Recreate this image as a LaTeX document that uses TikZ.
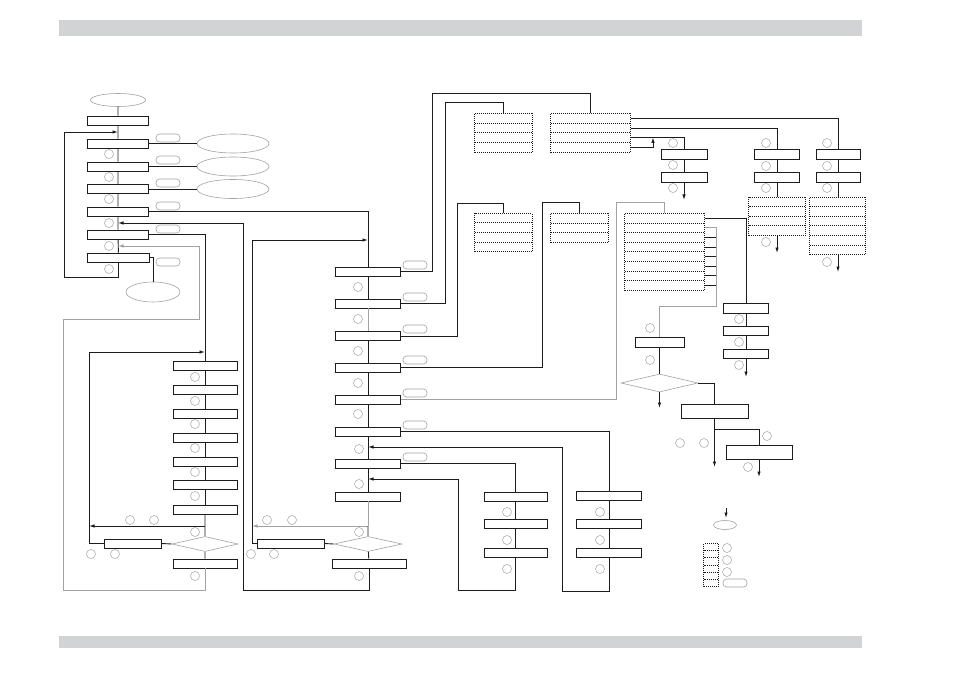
\documentclass[tikz,border=0pt]{standalone}
\usepackage{xcolor}
\usetikzlibrary{arrows.meta,positioning,shapes.geometric,shapes.multipart,calc}
\definecolor{ink}{HTML}{1C1C1C}
\definecolor{soft}{HTML}{A2A2A2}
\definecolor{band}{HTML}{D2D3D5}
\tikzset{
  bar/.style={draw=ink, line width=0.9pt, fill=white, inner sep=0pt, minimum height=9pt, minimum width=#1},
  bar/.default=61pt,
  oval/.style 2 args={ellipse, draw=soft, line width=0.6pt, fill=white, inner sep=0pt, minimum width=#1, minimum height=#2},
  choice/.style 2 args={diamond, draw=soft, line width=0.6pt, fill=white, inner sep=0pt, minimum width=#1, minimum height=#2},
  pill/.style={draw=soft, line width=0.6pt, rounded corners=3.5pt, inner sep=0pt, minimum width=24pt, minimum height=8pt},
  ring/.style={circle, draw=soft, line width=0.5pt, inner sep=0pt, minimum size=9pt},
  dotgroup/.style n args={3}{rectangle split, rectangle split parts=#1, draw=ink, line width=0.8pt, dash pattern=on 1pt off 1pt, inner xsep=0pt, inner ysep=0pt, rectangle split empty part width=#2, rectangle split empty part height=#3, rectangle split empty part depth=0pt, anchor=north},
  link/.style={draw=ink, line width=0.9pt},
  graylink/.style={draw=soft, line width=0.9pt},
  arrow/.style={link, -{Latex[length=5.5pt,width=3.5pt]}},
  grayarrow/.style={graylink, -{Latex[length=5.5pt,width=3.5pt]}}
}

\begin{document}
\begin{tikzpicture}[x=1pt, y=-1pt]
\useasboundingbox (0,0) rectangle (954,674);
\fill[band] (59,20) rectangle (862,36);
\fill[band] (59,636) rectangle (862,648);

% left upper column
\node[oval={55pt}{13pt}] (e0) at (118,100) {};
\node[bar] (b1) at (118,120.5) {};
\node[bar] (b2) at (118,143.5) {};
\node[bar] (b3) at (118,166.5) {};
\node[bar] (b4) at (118,189) {};
\node[bar] (b5) at (118,211.5) {};
\node[bar] (b6) at (118,234.5) {};
\node[bar=62pt] (b7) at (118.5,257.5) {};
\node[oval={72pt}{19pt}] (e1) at (233,143.5) {};
\node[oval={72pt}{19pt}] (e2) at (233,166.5) {};
\node[oval={72pt}{19pt}] (e3) at (233,189) {};
\node[oval={54pt}{20pt}] (e4) at (153,292) {};

% middle column
\node[bar=65pt] (m1) at (368,271.5) {};
\node[bar=65pt] (m2) at (368,303.5) {};
\node[bar=65pt] (m3) at (368,336) {};
\node[bar=65pt] (m4) at (368,367.5) {};
\node[bar=65pt] (m5) at (368,399.5) {};
\node[bar=65pt] (m6) at (368,431.5) {};
\node[bar=65pt] (m7) at (368,463.5) {};
\node[bar=65pt] (m8) at (368,496.5) {};
\node[choice={68pt}{15pt}] (md) at (368,544) {};
\node[bar=67pt] (mdl) at (290.5,543.5) {};
\node[bar=74pt] (mdb) at (369,563.5) {};

% left lower column
\node[bar=64pt] (l1) at (205,366) {};
\node[bar=64pt] (l2) at (205,390) {};
\node[bar=64pt] (l3) at (205,413.5) {};
\node[bar=64pt] (l4) at (205,437.5) {};
\node[bar=64pt] (l5) at (205,461.5) {};
\node[bar=64pt] (l6) at (205,485) {};
\node[bar=64pt] (l7) at (205,509.5) {};
\node[choice={66pt}{15pt}] (ld) at (205,544) {};
\node[bar=57pt] (ldl) at (132.5,543.5) {};
\node[bar=64pt] (ldb) at (205,563.5) {};

% lower right columns
\node[bar=63pt] (r1a) at (515.5,496.5) {};
\node[bar=63pt] (r1b) at (515.5,524) {};
\node[bar=63pt] (r1c) at (515.5,552.5) {};
\node[bar=65pt] (r2a) at (609,495.5) {};
\node[bar=65pt] (r2b) at (609,524) {};
\node[bar=65pt] (r2c) at (609,552.5) {};

% dotted tables
\node[dotgroup={4}{53pt}{8.95pt}] (gA) at (503.5,113) {};
\node[dotgroup={4}{75pt}{8.95pt}] (gB) at (590.5,113) {};
\node[dotgroup={4}{53pt}{8.7pt}] (gC) at (503.5,213) {};
\node[dotgroup={3}{53pt}{8.87pt}] (gD) at (579.5,213) {};
\node[dotgroup={8}{75pt}{8.8pt}] (gE) at (664.5,213) {};

% upper right columns
\node[bar=46pt, minimum height=10pt] (ca1) at (684,154) {};
\node[bar=46pt, minimum height=10pt] (ca2) at (684,177.5) {};
\node[bar=45pt, minimum height=10pt] (cb1) at (777,154) {};
\node[bar=45pt, minimum height=10pt] (cb2) at (777,177) {};
\node[dotgroup={4}{52pt}{8.7pt}] (gF) at (777,197) {};
\node[bar=44pt, minimum height=10pt] (cc1) at (838.5,154) {};
\node[bar=44pt, minimum height=10pt] (cc2) at (838.5,177) {};
\node[dotgroup={6}{51pt}{8.7pt}] (gG) at (837.5,197) {};
\node[bar=45pt, minimum height=10pt] (ce1) at (746,308) {};
\node[bar=45pt] (ce2) at (746,330.5) {};
\node[bar=45pt] (ce3) at (746,353.5) {};
\node[bar=49pt, minimum height=10pt] (ge1) at (659.5,342) {};
\node[choice={77pt}{18pt}] (dd) at (659.5,383) {};
\node[bar=67pt, minimum height=14pt] (dbx) at (714.5,411) {};
\node[bar=66pt, minimum height=14pt] (dby) at (759,452) {};

% legend
\node[oval={23pt}{9pt}] (lg0) at (725,525) {};
\node[dotgroup={6}{10pt}{6.4pt}] (gL) at (711,543) {};

% markers
\foreach \x/\y [count=\i] in {109/154,109/177,109/199,109/223,109/246,109/269,
  358/287,358/319,358/351,358/383,358/414,359/449,359/484,359/532,267/520,292/520,251/554,274/554,359/576,
  195/377,195/401,195/424,195/448,195/472,195/496,195/532,130/520,154/520,91/554,115/554,195/576,
  507/512,507/540,507/569,600/512,600/540,600/569,673/143,673/165,673/188,766/143,766/166,766/188,766/242,
  827/143,827/166,827/188,827/262,739/319,739/342,739/365,650/328,650/360,767/436,748/467,680/443,704/443,
  727/548,727/560,727/572}
  \node[ring] (o\i) at (\x,\y) {};
\foreach \x/\y [count=\i] in {168/138,168/160,168/183,168/206,168/229,168/262,
  415/265,415/297,415/329,415/360,415/393,415/425,415/457,735/583}
  \node[pill] (p\i) at (\x,\y) {};

% free ends
\coordinate (k1) at (118,132);
\coordinate (k2) at (118,223);
\coordinate (k3) at (118,246);
\coordinate (k4) at (368,240);
\coordinate (k5) at (368,526);
\coordinate (k6) at (252,526);
\coordinate (k7) at (205,526);
\coordinate (k8) at (89,526);
\coordinate (k9) at (205,352);
\coordinate (k10) at (368,479);
\coordinate (k11) at (368,447);
\coordinate (k12) at (653,137.4);
\coordinate (ka) at (684,200);
\coordinate (kb) at (777,253);
\coordinate (kc) at (838,272);
\coordinate (kd) at (746,377);
\coordinate (ke) at (659.5,408);
\coordinate (kf) at (714.5,467);
\coordinate (kg) at (714.5,429);
\coordinate (kh) at (759,477);
\coordinate (kl1) at (726,508);
\coordinate (kl2) at (726,518);

% connectors, left upper
\draw[link] (e0) -- (b1) (b1) -- (b2) (b2) -- (b3) (b3) -- (b4) (b4) -- (b5) (b5) -- (b6) (b6) -- (b7);
\draw[link] (b2.east) -- (e1.west) (b3.east) -- (e2.west) (b4.east) -- (e3.west);
\draw[link] (b7.east) -| (e4.north);
\draw[arrow] (b7.south) |- (64,277) |- (k1);
\draw[link] (b5.east) -| (m1.north);
\draw[link] (b6.east) -| (l1.north);
\draw[arrow] (mdb.south) |- (243,590) |- (k2);
\draw[grayarrow] (ldb.south) |- (63,590) |- (199,319) |- (k3);

% connectors, middle
\draw[link] (m1) -- (m2) (m3) -- (m4) (m4) -- (m5) (m5) -- (m6) (m6) -- (m7) (m7) -- (m8);
\draw[graylink] (m2) -- (m3);
\draw[graylink] (m8) -- (k5);
\draw[grayarrow] (k5) -- (k6);
\draw[link] (k5) -- (md.north) (md.west) -- (mdl.east) (md) -- (mdb);
\draw[arrow] (mdl.west) -| (252,240) -- (k4);
\draw[link] (m1.east) -| (432,93) -| (gB.north);
\draw[link] (m2.east) -| (445,102) -| (gA.north);
\draw[link] (m3.east) -| (457,203) -| (gC.north);
\draw[link] (m4.east) -| (542,202) -| (gD.north);
\draw[graylink] (m5.east) -| (616,202) -| (gE.north);
\draw[link] (m6.east) -| (r2a.north);
\draw[link] (m7.east) -| (r1a.north);
\draw[link] (r1a) -- (r1b) (r1b) -- (r1c) (r2a) -- (r2b) (r2b) -- (r2c);
\draw[arrow] (r1c.south) |- (458,590) |- (k10);
\draw[arrow] (r2c.south) |- (562,591) |- (k11);

% connectors, left lower
\draw[link] (l1) -- (l2) (l2) -- (l3) (l3) -- (l4) (l4) -- (l5) (l5) -- (l6) (l6) -- (l7);
\draw[link] (l7) -- (k7) -- (ld.north) (ld.west) -- (ldl.east) (ld) -- (ldb);
\draw[arrow] (k7) -- (k8);
\draw[arrow] (ldl.west) -| (89,352) -- (k9);

% connectors, right
\draw[link] (gB.text east) -| (cc1.north);
\draw[link] (gB.two east) -| (cb1.north);
\draw[link] (gB.three east) -| (ca1.north);
\draw[arrow] (gB.four east) -| (k12);
\draw[link] (ca1) -- (ca2);
\draw[arrow] (ca2.south) -- (ka);
\draw[link] (cb1) -- (cb2) (cb2) -- (gF.north);
\draw[arrow] (gF.south) -- (kb);
\draw[link] (cc1) -- (cc2) (cc2.south) -- (cc2.south |- gG.north);
\draw[arrow] (gG.south -| kc) -- (kc);
\draw[link] (gE.text east) -| (ce1.north);
\draw[graylink] (gE.two east) -| (716,306) -| (ge1.north);
\draw[link] (gE.three east) -- (gE.three east -| 716,0) (gE.four east) -- (gE.four east -| 716,0)
  (gE.five east) -- (gE.five east -| 716,0) (gE.six east) -- (gE.six east -| 716,0)
  (gE.seven east) -- (gE.seven east -| 716,0) (gE.eight east) -- (gE.eight east -| 716,0);
\draw[link] (ce1) -- (ce2) (ce2) -- (ce3);
\draw[arrow] (ce3.south) -- (kd);
\draw[link] (ge1) -- (dd.north);
\draw[arrow] (dd.south) -- (ke);
\draw[link] (dd.east) -| (dbx.north);
\draw[arrow] (dbx.south) -- (kf);
\draw[link] (kg) -| (dby.north);
\draw[arrow] (dby.south) -- (kh);
\draw[arrow] (kl1) -- (kl2);
\end{tikzpicture}
\end{document}
